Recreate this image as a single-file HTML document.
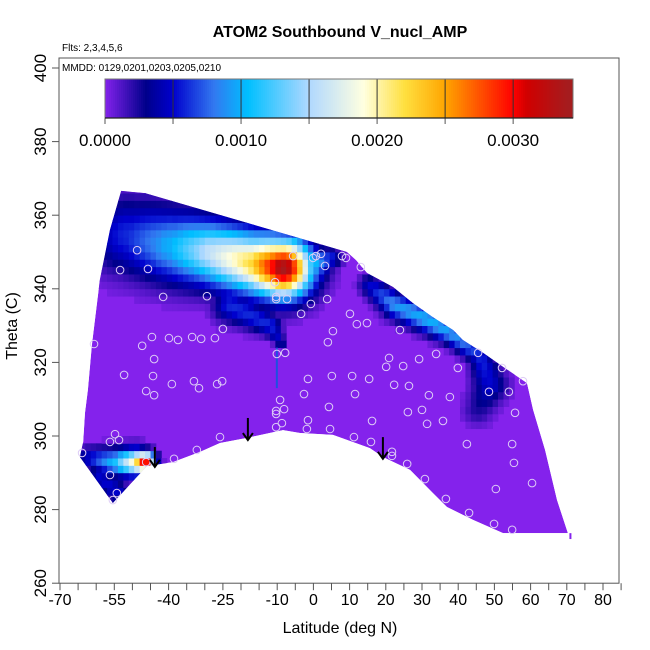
<!DOCTYPE html>
<html><head><meta charset="utf-8">
<style>
html,body{margin:0;padding:0;background:#fff;}
svg{display:block;font-family:"Liberation Sans",Arial,sans-serif;}
</style></head>
<body>
<svg id="chart" width="650" height="650" viewBox="0 0 650 650">
  <defs><clipPath id="envclip"><polygon id="envclipPoly"></polygon></clipPath></defs>
  <text x="340" y="37" text-anchor="middle" font-size="16" font-weight="bold">ATOM2 Southbound V_nucl_AMP</text>
  <text x="62" y="51" font-size="10">Flts: 2,3,4,5,6</text>
  <g id="field" clip-path="url(#envclip)"></g>
  <g id="marks"></g>
  <g id="colorbar"></g>
  <g id="axes"></g>
  <text x="62" y="71" font-size="10">MMDD: 0129,0201,0203,0205,0210</text>
  <text x="340" y="633" text-anchor="middle" font-size="16">Latitude (deg N)</text>
  <text transform="translate(17,326) rotate(-90)" text-anchor="middle" font-size="16">Theta (C)</text>
</svg>
<script>
// ---- data ----
const xTicks = [-70,-65,-60,-55,-50,-45,-40,-35,-30,-25,-20,-15,-10,-5,0,5,10,15,20,25,30,35,40,45,50,55,60,65,70,75,80,85];
const xTickLabels = [-70,-55,-40,-25,-10,0,10,20,30,40,50,60,70,80];
const yTicks = [260,280,300,320,340,360,380,400];
const cbTicks = [0,0.0005,0.001,0.0015,0.002,0.0025,0.003];
const cbLabels = [0,0.001,0.002,0.003];
// envelope of valid data (lat, theta)
const envLat = [-53.1,-46.5,9.3,11.8,14.8,22.0,27.5,33.0,38.6,41.3,46.9,52.4,59.0,60.7,64.0,67.3,70.3,52.4,44.1,36.9,33.0,26.7,19.2,15.6,5.4,-3.7,-8.4,-18.3,-25.8,-31.3,-38.8,-46.0,-55.4,-64.5,-63.6,-63.1,-62.3,-61.2,-59.0,-56.2];
const envTheta = [366.6,366.0,350.0,347.8,344.3,340.5,336.1,332.3,328.8,326.1,322.6,318.8,314.4,307.1,296.2,282.6,273.6,273.6,277.2,280.7,284.5,290.8,294.3,296.7,300.3,300.8,301.6,299.5,298.1,295.7,292.9,291.8,281.8,294.3,298.4,306.3,312.5,324.7,342.4,356.0];
// plume ridges: lat, theta, peak value, spread (K)
const ridgeALat=[-51.2,-39.6,-28.6,-17.5,-8.4,-3.7,4.6];
const ridgeATh=[354.6,351.9,350.0,347.3,345.7,345.7,348.4];
const ridgeAVal=[0.0006,0.0010,0.0016,0.0022,0.0034,0.0015,0.0006];
const ridgeASpr=[10,9.5,8.5,8,7.5,6,3];
const ridgeBLat=[-23.0,-12.0,-8.7];
const ridgeBTh=[335.6,330.2,324.7];
const ridgeBVal=[0.0006,0.0006,0.0004];
const ridgeBSpr=[4.5,3,1.2];
const ridgeCLat=[-62.3,-54.8,-49.3,-46.5,-44.6];
const ridgeCTh=[294.0,292.9,292.9,292.9,293.5];
const ridgeCVal=[0.0005,0.0011,0.0020,0.0032,0.0012];
const ridgeCSpr=[3,3.5,3.5,2.6,1.8];
const ridgeC2Lat=[-59.0,-54.0];
const ridgeC2Th=[288.6,284.8];
const ridgeC2Val=[0.0005,0.0005];
const ridgeC2Spr=[3,3];
const ridgeDLat=[15.6,22.5,32.2,39.1,46.0,48.8,45.5];
const ridgeDTh=[341.0,335.6,331.5,327.4,322.0,313.9,307.1];
const ridgeDVal=[0.0005,0.0009,0.0010,0.0009,0.0006,0.0005,0.00025];
const ridgeDSpr=[2.8,3.4,3.6,3,3,4.5,4];
// observations
const obsLat=[-48.7,-53.4,-45.7,-41.5,-29.4,-5.6,-0.1,0.7,2.1,7.9,9.0,13.1,3.2,-10.6,-10.3,-10.3,-7.3,-0.7,3.8,-3.4,10.1,12.0,14.8,5.4,4.0,23.9,-10.1,-7.8,20.9,20.1,24.8,29.2,33.9,39.9,45.5,52.1,57.9,48.5,54.0,55.7,
-1.5,5.1,10.7,15.4,22.3,26.4,31.9,37.7,-2.6,11.5,-9.2,-10.3,-10.3,-8.1,4.3,26.1,30.0,-8.7,-10.3,-1.5,-1.8,4.6,16.2,31.4,35.8,11.2,
-44.6,-47.3,-39.9,-37.4,-33.5,-31.0,-27.2,-25.0,-60.6,-44.0,-52.3,-44.3,-39.1,-33.0,-31.6,-26.6,-25.2,-46.2,-44.0,
-54.8,-56.2,-53.7,-25.8,-32.2,-38.5,-63.9,-46.2,-56.2,-54.3,-55.4,
15.9,21.7,21.7,25.9,30.8,36.6,43.0,49.9,54.9,50.4,60.4,55.4,54.9,42.4];
const obsTheta=[350.5,345.1,345.4,337.8,338.0,348.9,348.4,348.9,349.5,348.9,348.4,345.9,346.2,341.8,337.8,337.2,337.2,335.9,337.2,333.2,333.2,330.4,330.7,328.5,325.5,328.8,322.3,322.6,321.2,318.8,319.0,320.9,322.3,318.5,322.6,318.5,314.9,312.0,312.0,306.3,
315.5,316.3,316.3,315.5,313.9,313.6,311.1,310.6,311.4,311.4,309.8,306.8,306.0,307.3,307.9,306.5,307.1,303.5,302.4,304.3,301.9,301.9,304.1,303.3,304.1,299.7,
326.9,324.5,326.6,326.1,326.9,326.4,326.6,329.1,325.0,320.9,316.6,316.3,314.1,314.9,313.0,314.1,314.9,312.2,311.1,
300.5,298.4,298.9,299.7,296.2,293.8,295.4,292.9,289.4,284.5,282.6,
298.4,295.7,294.6,292.4,288.3,282.9,279.1,276.1,274.5,285.6,287.2,292.7,297.8,297.8];
// flight-turn arrows (lat, top theta, bottom theta)
const arrowLat=[-43.8,-18.1,19.2];
const arrowTop=[297.0,304.9,299.7];
const arrowBot=[291.6,298.9,293.8];

// ---- scales ----
const X0=60, XS=3.62, Y0=68, YS=3.68;
const sx = v => X0 + (v+70)*XS;
const sy = v => Y0 + (400-v)*YS;
const NS='http://www.w3.org/2000/svg';
function mk(tag, attrs, parent){const e=document.createElementNS(NS,tag);for(const k in attrs)e.setAttribute(k,attrs[k]);parent.appendChild(e);return e;}

// colormap
const cmV=[0,0.0003,0.0005,0.0008,0.00105,0.0015,0.0019,0.0022,0.0025,0.003,0.0031,0.0034];
const cmC=[[132,34,236],[0,0,139],[0,0,205],[50,120,240],[0,191,255],[176,216,255],[255,255,224],[255,224,64],[255,165,0],[255,0,0],[208,0,0],[165,28,30]];
function cmap(v){
  if(v<=cmV[0])return cmC[0];
  for(let i=1;i<cmV.length;i++){if(v<=cmV[i]){const t=(v-cmV[i-1])/(cmV[i]-cmV[i-1]);const a=cmC[i-1],b=cmC[i];return [0,1,2].map(k=>Math.round(a[k]+(b[k]-a[k])*t));}}
  return cmC[cmC.length-1];
}
const rgb=c=>`rgb(${c[0]},${c[1]},${c[2]})`;

// envelope
const envPts = envLat.map((l,i)=>sx(l)+','+sy(envTheta[i])).join(' ');
document.getElementById('envclipPoly').setAttribute('points', envPts);
const field=document.getElementById('field');
const env=mk('polygon',{points:envPts,fill:rgb(cmC[0])},field);



// field values
const ridges=[[ridgeALat,ridgeATh,ridgeAVal,ridgeASpr],[ridgeBLat,ridgeBTh,ridgeBVal,ridgeBSpr],[ridgeCLat,ridgeCTh,ridgeCVal,ridgeCSpr],[ridgeC2Lat,ridgeC2Th,ridgeC2Val,ridgeC2Spr],[ridgeDLat,ridgeDTh,ridgeDVal,ridgeDSpr]];
function valueAt(px,py){
  let best=0;
  for(const r of ridges){
    const [la,th,va,sp]=r;
    for(let i=0;i<la.length-1;i++){
      const ax=sx(la[i]),ay=sy(th[i]),bx=sx(la[i+1]),by=sy(th[i+1]);
      const dx=bx-ax,dy=by-ay,L=dx*dx+dy*dy;
      let t=L?((px-ax)*dx+(py-ay)*dy)/L:0;t=Math.max(0,Math.min(1,t));
      const cx=ax+dx*t,cy=ay+dy*t,d=Math.hypot(px-cx,py-cy);
      const v=va[i]+(va[i+1]-va[i])*t, w=(sp[i]+(sp[i+1]-sp[i])*t)*YS;
      const f=v*Math.exp(-(d/w)*(d/w));
      if(f>best)best=f;
    }
  }
  return best;
}
const cw=1.5, ch=2;
for(let la=-66;la<72;la+=cw){
  for(let th=272;th<368;th+=ch){
    const x0=sx(la),x1=sx(la+cw),y0=sy(th+ch),y1=sy(th);
    const v=valueAt((x0+x1)/2,(y0+y1)/2);
    if(v<0.00004)continue;
    const c=mk('rect',{x:x0.toFixed(2),y:y0.toFixed(2),width:(x1-x0+0.4).toFixed(2),height:(y1-y0+0.4).toFixed(2),fill:rgb(cmap(v))},field);
    
    
  }
}
const marks=document.getElementById('marks');
const vline=mk('line',{x1:sx(-10.1),x2:sx(-10.1),y1:sy(324),y2:sy(313),stroke:'#1e50e0','stroke-width':2},marks);


const stub=mk('line',{x1:sx(71),x2:sx(71),y1:sy(273.6),y2:sy(272),stroke:rgb(cmC[0]),'stroke-width':2},marks);



// observations
obsLat.forEach((l,i)=>{
  const c=mk('circle',{cx:sx(l),cy:sy(obsTheta[i]),r:3.8,fill:'none',stroke:'#ddccf6','stroke-width':1},marks);
  
  
});
// arrows
arrowLat.forEach((l,i)=>{
  const g=mk('g',{},marks);
  
  
  const x=sx(l),yt=sy(arrowTop[i]),yb=sy(arrowBot[i]);
  mk('line',{x1:x,x2:x,y1:yt,y2:yb,stroke:'#000','stroke-width':2},g);
  mk('polyline',{points:`${x-5},${yb-7} ${x},${yb} ${x+5},${yb-7}`,fill:'none',stroke:'#000','stroke-width':2},g);
});

// colorbar
const cb=document.getElementById('colorbar');
const CBX0=105,CBX1=573,CBMAX=0.00344,CBY0=79,CBY1=118;
const cbx=v=>CBX0+(v/CBMAX)*(CBX1-CBX0);
for(let i=0;i<234;i++){
  const v0=i*CBMAX/234;
  const r=mk('rect',{x:cbx(v0),y:CBY0,width:(CBX1-CBX0)/234+0.5,height:CBY1-CBY0,fill:rgb(cmap(v0+CBMAX/468))},cb);
  
  
}
cbTicks.forEach(v=>{
  if(v>0){const d=mk('line',{x1:cbx(v),x2:cbx(v),y1:CBY0,y2:CBY1,stroke:'#333','stroke-width':1},cb);
  
  }
  const t=mk('line',{x1:cbx(v),x2:cbx(v),y1:CBY1,y2:CBY1+6,stroke:'#555','stroke-width':1},cb);
  
  
});
const cbb=mk('rect',{x:CBX0,y:CBY0,width:CBX1-CBX0,height:CBY1-CBY0,fill:'none',stroke:'#777','stroke-width':1},cb);


mk('line',{x1:CBX0,x2:CBX1,y1:CBY1,y2:CBY1,stroke:'#222','stroke-width':1.2},cb);
cbLabels.forEach(v=>{
  const t=mk('text',{x:cbx(v),y:146,'text-anchor':'middle','font-size':17},cb);
  t.textContent=v.toFixed(4);
  
  
});

// axes
const ax=document.getElementById('axes');
const BOXTOP=58;
const box=mk('rect',{x:59,y:BOXTOP,width:619-59,height:sy(260)-BOXTOP,fill:'none',stroke:'#555','stroke-width':1},ax);


const yb=sy(260);
xTicks.forEach(v=>{
  const t=mk('line',{x1:sx(v),x2:sx(v),y1:yb,y2:yb+7,stroke:'#555'},ax);
  
  
});
xTickLabels.forEach(v=>{
  const t=mk('text',{x:sx(v),y:yb+22,'text-anchor':'middle','font-size':16},ax);
  t.textContent=String(v);
  
  
});
yTicks.forEach(v=>{
  const t=mk('line',{x1:52,x2:59,y1:sy(v),y2:sy(v),stroke:'#555'},ax);
  
  
  const l=mk('text',{transform:`translate(46,${sy(v)}) rotate(-90)`,'text-anchor':'middle','font-size':17},ax);
  l.textContent=String(v);
  
  
});
</script>
</body></html>
